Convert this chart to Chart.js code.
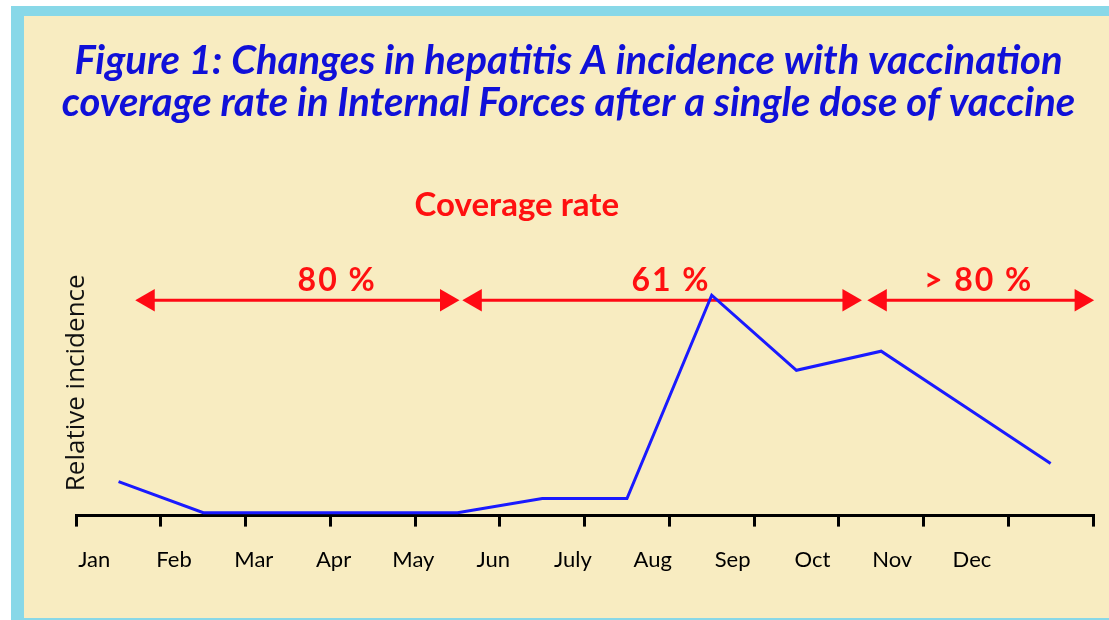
<!DOCTYPE html>
<html>
<head>
<meta charset="utf-8">
<script src="https://cdn.jsdelivr.net/npm/chart.js@4/dist/chart.umd.min.js"></script>
<style>
  body { margin: 0; background: #ffffff; }
  #frame {
    position: absolute;
    left: 11px;
    top: 6px;
    width: 1085px;
    height: 602px;
    background: #f8ecc1;
    border-left: 13px solid #88d8e8;
    border-top: 10px solid #88d8e8;
    border-bottom: 2px solid #88d8e8;
  }
  canvas { display: block; }
</style>
</head>
<body>
<div id="frame">
  <canvas id="hepatitis_chart" width="1085" height="602"></canvas>
</div>
<script>
// months and relative incidence
const months = ["Jan", "Feb", "Mar", "Apr", "May", "Jun", "July", "Aug", "Sep", "Oct", "Nov", "Dec"];
const incidence = [1.28, 0.11, 0.11, 0.11, 0.11, 0.64, 0.64, 8.3, 5.47, 6.19, 4.08, 1.96];

// coverage periods (red arrows), in month units along the axis
const coverageText = ["80 %", "61 %", "> 80 %"];
const coverageStart = [0.85, 4.71, 9.49];
const coverageEnd = [4.37, 9.12, 11.86];
const coverageTextX = [3.08, 7.02, 10.65];
const arrowLevel = 8.11;
const headingX = 5.2;

function arrow_datasets() {
    let sets = [];
    for (let i = 0; i < coverageText.length; i++) {
        sets.push({
            data: [{x: coverageStart[i], y: arrowLevel}, {x: coverageEnd[i], y: arrowLevel}],
            borderColor: "#ff0a14",
            backgroundColor: "#ff0a14",
            borderWidth: 3,
            pointStyle: "triangle",
            pointRadius: 13,
            pointHoverRadius: 13,
            pointBorderWidth: 0,
            pointRotation: [-90, 90],
            clip: false
        });
    }
    return sets;
}

const coverageLabels = {
    id: "coverageLabels",
    afterDatasetsDraw(chart) {
        let ctx = chart.ctx;
        let xs = chart.scales.x;
        let ys = chart.scales.y;
        ctx.save();
        ctx.fillStyle = "#ff1010";
        ctx.textAlign = "center";
        ctx.textBaseline = "alphabetic";
        ctx.font = "bold 33px Lato";
        ctx.fillText("Coverage rate", xs.getPixelForValue(headingX), chart.chartArea.top - 34);
        ctx.font = "bold 32px Lato";
        ctx.letterSpacing = "2px";
        coverageText.forEach(function (t, i) {
            ctx.fillText(t, xs.getPixelForValue(coverageTextX[i]), ys.getPixelForValue(arrowLevel) - 9);
        });
        ctx.restore();
    }
};

function hepatitis_chart() {
    let points = months.map(function (m, i) {
        return {x: i + 0.5, y: incidence[i]};
    });

    new Chart("hepatitis_chart", {
        type: "line",
        data: {
            datasets: [{
                data: points,
                borderColor: "#1a1aff",
                borderWidth: 3,
                pointRadius: 0,
                tension: 0,
                fill: false
            }].concat(arrow_datasets())
        },
        options: {
            responsive: false,
            animation: false,
            events: [],
            layout: {
                padding: {left: 20, right: 16, top: 0, bottom: 33}
            },
            plugins: {
                legend: {display: false},
                tooltip: {enabled: false},
                title: {
                    display: true,
                    text: ["Figure 1: Changes in hepatitis A incidence with vaccination",
                           "coverage rate in Internal Forces after a single dose of vaccine"],
                    color: "#1010d8",
                    font: {family: "Lato", size: 40, weight: "bold", style: "italic", lineHeight: 1.05},
                    padding: {top: 24, bottom: 126}
                }
            },
            scales: {
                x: {
                    type: "linear",
                    min: 0,
                    max: 12,
                    weight: 0,
                    ticks: {display: false, stepSize: 1},
                    grid: {
                        display: true,
                        drawOnChartArea: false,
                        drawTicks: true,
                        tickLength: 11,
                        lineWidth: 3,
                        color: "#000000"
                    },
                    border: {display: true, color: "#000000", width: 3}
                },
                x2: {
                    type: "linear",
                    axis: "x",
                    position: "bottom",
                    min: -0.2258,
                    max: 12.517,
                    weight: 1,
                    grid: {display: false},
                    border: {display: false},
                    ticks: {
                        stepSize: 1,
                        includeBounds: false,
                        autoSkip: false,
                        maxRotation: 0,
                        padding: 12,
                        color: "#000000",
                        font: {family: "Lato", size: 22},
                        callback: function (v) {
                            return Number.isInteger(v) && months[v] ? months[v] : "";
                        }
                    }
                },
                y: {
                    min: 0,
                    max: 10,
                    grid: {display: false},
                    border: {display: false},
                    ticks: {display: false},
                    title: {
                        display: true,
                        text: "Relative incidence",
                        color: "#111111",
                        font: {family: "Open Sans", size: 26},
                        padding: {top: 17, bottom: -24}
                    }
                }
            }
        },
        plugins: [coverageLabels]
    });
}

hepatitis_chart();
</script>
</body>
</html>
